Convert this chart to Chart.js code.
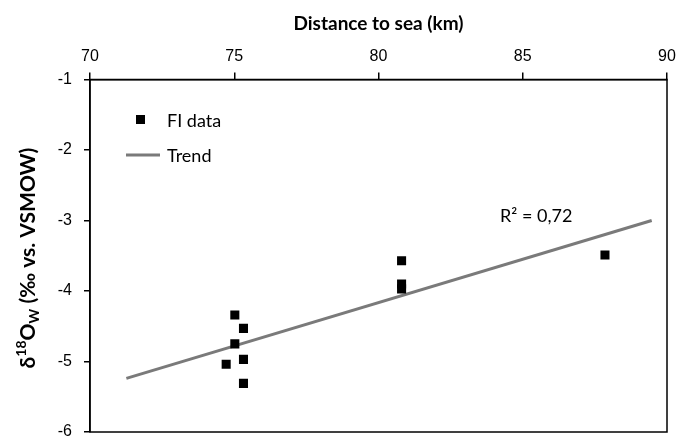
<!DOCTYPE html>
<html>
<head>
<meta charset="utf-8">
<script src="https://cdn.jsdelivr.net/npm/chart.js@4"></script>
<style>
  html, body { margin: 0; padding: 0; background: #fff; }
  #wrap { width: 688px; height: 439px; }
</style>
</head>
<body>
<div id="wrap"><canvas id="chart"></canvas></div>
<script>
// distance to sea (km) and d18O of water
const distance = [75.02, 75.32, 75.02, 75.32, 74.72, 75.32, 80.80, 80.80, 80.80, 87.85];
const d18O = [-4.34, -4.53, -4.75, -4.97, -5.04, -5.31, -3.57, -3.90, -3.97, -3.49];
const trendX = [71.26, 89.47];
const trendY = [-5.24, -3.00];
const xTicks = [70, 75, 80, 85, 90];
const yTicks = [-6, -5, -4, -3, -2, -1];
const r2Label = 'R² = 0,72';

const calibri = 'Lato, "Open Sans", sans-serif';

// black frame around the plot, legend, r2 and y title
const extras = {
  id: 'extras',
  afterDraw(chart) {
    const { ctx, chartArea: a } = chart;
    ctx.save();
    ctx.strokeStyle = '#000';
    ctx.lineWidth = 1.5;
    ctx.strokeRect(a.left, a.top, a.right - a.left, a.bottom - a.top);

    // legend
    const ds = chart.data.datasets;
    ctx.fillStyle = '#000';
    ctx.fillRect(136, 115, 9, 9);
    ctx.font = '18px ' + calibri;
    ctx.textBaseline = 'middle';
    ctx.textAlign = 'left';
    ctx.fillText(ds[0].label, 167, 121);
    ctx.strokeStyle = ds[1].borderColor;
    ctx.lineWidth = 3;
    ctx.beginPath();
    ctx.moveTo(126, 155);
    ctx.lineTo(160, 155);
    ctx.stroke();
    ctx.fillStyle = '#000';
    ctx.fillText(ds[1].label, 167, 156);

    // r squared
    ctx.font = '18px ' + calibri;
    ctx.fillText(r2Label, 500, 216);

    // y axis title
    ctx.translate(28, 258);
    ctx.rotate(-Math.PI / 2);
    const big = 'bold 21px ' + calibri;
    const small = 'bold 14px ' + calibri;
    const parts = [
      ['δ', big, 0], ['18', small, -7], ['O', big, 0], ['W', small, 6], [' (‰ vs. VSMOW)', big, 0]
    ];
    let total = 0;
    parts.forEach(p => { ctx.font = p[1]; total += ctx.measureText(p[0]).width; });
    let x = -total / 2;
    ctx.textAlign = 'left';
    ctx.textBaseline = 'middle';
    parts.forEach(p => {
      ctx.font = p[1];
      ctx.fillText(p[0], x, p[2]);
      x += ctx.measureText(p[0]).width;
    });
    ctx.restore();
  }
};

new Chart(document.getElementById('chart'), {
  type: 'scatter',
  data: {
    datasets: [{
      label: 'FI data',
      data: distance.map((d, i) => ({ x: d, y: d18O[i] })),
      pointStyle: 'rect',
      pointRadius: 6.4,
      pointHoverRadius: 6.4,
      backgroundColor: '#000',
      borderColor: '#000',
      borderWidth: 0,
      order: 1
    }, {
      label: 'Trend',
      type: 'line',
      data: trendX.map((d, i) => ({ x: d, y: trendY[i] })),
      borderColor: '#7a7a7a',
      borderWidth: 3,
      pointRadius: 0,
      fill: false,
      order: 2
    }]
  },
  options: {
    responsive: true,
    maintainAspectRatio: false,
    animation: false,
    layout: { padding: { left: 0, top: 0, right: 21, bottom: 7 } },
    plugins: { legend: { display: false }, tooltip: { enabled: false } },
    scales: {
      x: {
        type: 'linear',
        position: 'top',
        min: 70, max: 90,
        afterBuildTicks: s => { s.ticks = xTicks.map(v => ({ value: v })); },
        afterFit: s => { s.height = 79.5; s.paddingLeft = 0; s.paddingRight = 0; },
        grid: { drawOnChartArea: false, drawTicks: true, tickLength: 7, color: '#000', lineWidth: 1.5 },
        border: { display: true, color: '#000', width: 1.5 },
        ticks: { color: '#000', font: { family: '"Liberation Sans", Arial, sans-serif', size: 16 }, padding: 6, maxRotation: 0 },
        title: { display: true, text: 'Distance to sea (km)', color: '#000', font: { family: calibri, size: 19, weight: 'bold' }, padding: { top: 12, bottom: 4 } }
      },
      y: {
        type: 'linear',
        min: -6, max: -1,
        afterBuildTicks: s => { s.ticks = yTicks.map(v => ({ value: v })); },
        afterFit: s => { s.width = 90; s.paddingTop = 0; s.paddingBottom = 0; },
        grid: { drawOnChartArea: false, drawTicks: true, tickLength: 6, color: '#000', lineWidth: 1.5 },
        border: { display: true, color: '#000', width: 1.5 },
        ticks: { color: '#000', font: { family: '"Liberation Sans", Arial, sans-serif', size: 16 }, padding: 12 }
      }
    }
  },
  plugins: [extras]
});
</script>
</body>
</html>
